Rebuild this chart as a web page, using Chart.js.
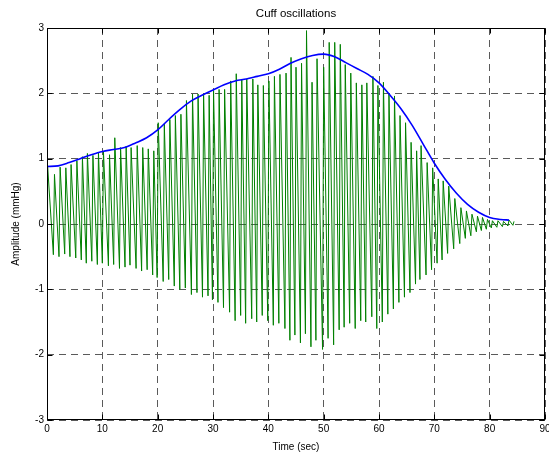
<!DOCTYPE html>
<html lang="en">
<head>
<meta charset="UTF-8">
<title>Cuff oscillations</title>
<script src="https://cdn.jsdelivr.net/npm/chart.js"></script>
<style>
  body { margin: 0; background: #fff; }
</style>
</head>
<body>
<canvas id="cuffChart" width="549" height="456"></canvas>
<script>
  // time (sec) of each beat's peak
  const beatTimes = [
    0.1, 1.35, 2.37, 3.4, 4.35, 5.4, 6.4, 7.3, 8.3, 9.3,
    10.2, 11.3, 12.25, 13.3, 14.3, 15.2, 16.3, 17.3, 18.3, 19.3,
    20.1, 21.2, 22.2, 23.2, 24.2, 25.2, 26.3, 27.3, 28.3, 29.3,
    30.1, 31.1, 32.1, 33.2, 34.2, 35.2, 36.1, 37.2, 38.1, 39.1,
    40.1, 41.1, 42.1, 43.2, 44.1, 45.0, 46.0, 46.9, 47.9, 48.8,
    50.0, 51.0, 52.0, 53.0, 53.9, 54.9, 55.9, 56.9, 57.8, 58.9,
    59.8, 60.8, 61.8, 62.8, 63.8, 64.8, 65.8, 66.8, 67.6, 68.7,
    69.7, 70.7, 71.6, 72.6, 73.7, 74.8, 75.8, 76.8, 77.8, 78.7,
    79.6, 80.5, 81.5, 82.5, 83.5, 84.4
  ];

  // cuff pressure at each peak (mmHg)
  const peakValues = [
    0.90, 0.76, 0.87, 0.86, 0.91, 0.97, 1.03, 1.08, 1.05, 1.10,
    1.11, 1.06, 1.32, 1.17, 1.19, 1.17, 1.20, 1.17, 1.15, 1.12,
    1.55, 1.53, 1.60, 1.66, 1.68, 1.89, 1.99, 1.99, 1.99, 1.97,
    2.04, 2.06, 2.06, 2.19, 2.30, 2.22, 2.22, 2.22, 2.13, 2.12,
    2.19, 2.26, 2.29, 2.31, 2.55, 2.40, 2.46, 2.96, 2.17, 2.53,
    2.40, 2.78, 2.78, 2.75, 2.44, 2.31, 2.16, 2.13, 2.16, 2.26,
    2.12, 2.17, 1.99, 1.96, 1.66, 1.55, 1.25, 1.12, 1.20, 0.94,
    0.86, 0.69, 0.66, 0.58, 0.39, 0.25, 0.20, 0.15, 0.12, 0.10,
    0.07, 0.05, 0.05, 0.04, 0.06, 0.04
  ];

  // cuff pressure at the trough just before each peak (mmHg)
  const troughValues = [
    0.02, -0.47, -0.50, -0.46, -0.50, -0.52, -0.55, -0.60, -0.57, -0.62,
    -0.60, -0.64, -0.62, -0.68, -0.66, -0.63, -0.68, -0.72, -0.70, -0.78,
    -0.82, -0.88, -0.85, -0.95, -1.00, -0.98, -1.08, -1.05, -1.12, -1.10,
    -1.16, -1.20, -1.28, -1.35, -1.48, -1.40, -1.52, -1.45, -1.50, -1.40,
    -1.48, -1.55, -1.52, -1.60, -1.78, -1.70, -1.82, -1.68, -1.88, -1.78,
    -1.92, -1.75, -1.85, -1.62, -1.58, -1.52, -1.60, -1.48, -1.50, -1.42,
    -1.60, -1.50, -1.38, -1.30, -1.20, -1.12, -1.05, -0.92, -0.85, -0.78,
    -0.70, -0.60, -0.55, -0.45, -0.38, -0.30, -0.22, -0.18, -0.12, -0.10,
    -0.08, -0.06, -0.05, -0.04, -0.03, -0.02
  ];

  // upper envelope of the oscillations
  const envelopeTimes = [
    0, 2, 4, 6, 8, 10, 12, 14, 16, 18, 20, 22, 24, 26, 28, 30, 32, 34, 36, 38, 40,
    42, 44, 46, 48, 50, 52, 54, 56, 58, 60, 62, 64, 66, 68, 70, 72, 74, 76, 78, 80, 82, 83.5
  ];
  const envelopeValues = [
    0.88, 0.89, 0.94, 1.00, 1.06, 1.11, 1.14, 1.17, 1.24, 1.32, 1.44, 1.60, 1.75, 1.88, 1.97, 2.05, 2.13, 2.19, 2.22, 2.26, 2.30,
    2.37, 2.46, 2.53, 2.58, 2.60, 2.56, 2.47, 2.38, 2.29, 2.16, 1.97, 1.76, 1.51, 1.22, 0.93, 0.68, 0.47, 0.30, 0.18, 0.10, 0.07, 0.06
  ];

  const xTicks = [0, 10, 20, 30, 40, 50, 60, 70, 80, 90];
  const yTicks = [-3, -2, -1, 0, 1, 2, 3];

  const RISE = 0.2; // upstroke length in seconds
  const FONT = '"Liberation Sans", Arial, Helvetica, sans-serif';

  const oscillation = [];
  beatTimes.forEach((t, i) => {
    oscillation.push({ x: Math.max(0, t - RISE), y: troughValues[i] });
    oscillation.push({ x: t, y: peakValues[i] });
  });
  const envelope = envelopeTimes.map((t, i) => ({ x: t, y: envelopeValues[i] }));

  // box around the axes, ticks pointing inwards, title over the plot
  const matlabFrame = {
    id: 'matlabFrame',
    afterDraw(chart) {
      const { ctx, chartArea: a, scales } = chart;
      const L = Math.round(a.left) + 0.5, R = Math.round(a.right) - 0.5;
      const T = Math.round(a.top) + 0.5, B = Math.round(a.bottom) - 0.5;
      ctx.save();
      ctx.strokeStyle = '#000';
      ctx.lineWidth = 1;
      ctx.setLineDash([]);
      ctx.strokeRect(L, T, R - L, B - T);
      ctx.beginPath();
      scales.x.ticks.forEach(tk => {
        const px = Math.round(scales.x.getPixelForValue(tk.value)) + 0.5;
        ctx.moveTo(px, B); ctx.lineTo(px, B - 5);
        ctx.moveTo(px, T); ctx.lineTo(px, T + 5);
      });
      scales.y.ticks.forEach(tk => {
        const py = Math.round(scales.y.getPixelForValue(tk.value)) + 0.5;
        ctx.moveTo(L, py); ctx.lineTo(L + 5, py);
        ctx.moveTo(R, py); ctx.lineTo(R - 5, py);
      });
      ctx.stroke();

      ctx.fillStyle = '#000';
      ctx.font = '11.5px ' + FONT;
      ctx.textAlign = 'center';
      ctx.textBaseline = 'alphabetic';
      ctx.fillText('Cuff oscillations', (a.left + a.right) / 2, 17);
      ctx.restore();
    }
  };

  new Chart(document.getElementById('cuffChart'), {
    type: 'line',
    data: {
      datasets: [
        {
          label: 'Envelope',
          data: envelope,
          borderColor: '#0000ff',
          borderWidth: 1.6,
          pointRadius: 0,
          cubicInterpolationMode: 'monotone',
          fill: false
        },
        {
          label: 'Cuff oscillations',
          data: oscillation,
          borderColor: '#008000',
          borderWidth: 1,
          pointRadius: 0,
          tension: 0,
          fill: false
        }
      ]
    },
    options: {
      responsive: false,
      animation: false,
      events: [],
      layout: { padding: { top: 28, right: 4, left: 0, bottom: 0 } },
      plugins: {
        legend: { display: false },
        tooltip: { enabled: false }
      },
      scales: {
        x: {
          type: 'linear',
          min: 0,
          max: 90,
          afterBuildTicks: s => { s.ticks = xTicks.map(v => ({ value: v })); },
          afterFit: s => { s.height = 36; s.paddingLeft = 0; s.paddingRight = 0; },
          grid: { color: '#5a5a5a', lineWidth: 1, drawTicks: false },
          border: { display: false, dash: [7, 5] },
          ticks: { color: '#000', padding: 3, maxRotation: 0, font: { family: FONT, size: 10 } },
          title: {
            display: true,
            text: 'Time (sec)',
            color: '#000',
            font: { family: FONT, size: 10 },
            padding: { top: 0, bottom: 3 }
          }
        },
        y: {
          type: 'linear',
          min: -3,
          max: 3,
          afterBuildTicks: s => { s.ticks = yTicks.map(v => ({ value: v })); },
          afterFit: s => { s.width = 47; s.paddingTop = 0; s.paddingBottom = 0; },
          grid: { color: '#5a5a5a', lineWidth: 1, drawTicks: false },
          border: { display: false, dash: [7, 5] },
          ticks: { color: '#000', padding: 3, font: { family: FONT, size: 10 } },
          title: {
            display: true,
            text: 'Amplitude (mmHg)',
            color: '#000',
            font: { family: FONT, size: 10 },
            padding: { top: 10, bottom: 0 }
          }
        }
      }
    },
    plugins: [matlabFrame]
  });
</script>
</body>
</html>
